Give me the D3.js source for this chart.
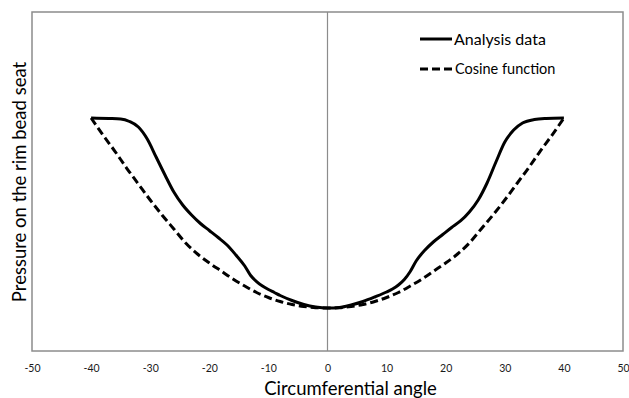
<!DOCTYPE html>
<html><head><meta charset="utf-8">
<script src="https://cdn.jsdelivr.net/npm/d3@7"></script>
<style>html,body{margin:0;padding:0;background:#fff;}svg{display:block;}</style>
</head><body>
<svg id="c" width="629" height="398"></svg>
<script>
// Data (pressure in relative units, 0..100 scale)
const analysisAngles = [-40,-37,-35,-33.5,-32,-30.5,-29,-27.5,-26,-24.5,-23,-21.5,-20,-18.5,-17,-15.5,-14,-13,-12,-11,-10,-9,-8,-6,-4,-2,0,2,4,6,8,10,11,12,13,14,15,16.5,18,19.5,21,22.5,24,25.5,27,28.5,30,31.5,33,35,37,40];
const analysisValues = [68.73,68.59,68.44,67.70,66.08,62.54,57.23,51.92,46.90,43.07,40.12,37.61,35.55,33.48,31.27,28.32,25.07,22.27,20.50,19.17,18.14,17.26,16.37,14.90,13.72,12.98,12.68,12.83,13.57,14.60,15.93,17.40,18.29,19.47,21.09,23.45,26.55,29.79,32.30,34.37,36.43,38.35,41.00,44.54,49.56,55.75,61.65,65.19,67.26,68.29,68.59,68.73];
const cosineAngles = [-40,-38,-36,-34,-32,-30,-28,-26,-24,-22,-20,-18,-16,-14,-12,-10,-8,-6,-4,-2,0,2,4,6,8,10,12,14,16,18,20,22,24,26,28,30,32,34,36,38,40];
const cosineValues = [68.73,63.71,58.99,53.98,49.26,44.54,40.12,35.99,31.86,28.61,25.96,23.60,21.24,19.17,17.26,15.78,14.60,13.72,13.13,12.77,12.68,12.77,13.13,13.72,14.60,15.78,17.26,19.17,21.24,23.60,25.96,28.61,31.86,35.99,40.12,44.54,49.26,53.98,58.99,63.71,68.73];
const xTicks = [-50,-40,-30,-20,-10,0,10,20,30,40,50];
const legendLabels = ["Analysis data","Cosine function"];
const xTitle = "Circumferential angle";
const yTitle = "Pressure on the rim bead seat";

const svg = d3.select("#c");
const L = 32, R = 623, T = 12, B = 351;
const x = d3.scaleLinear().domain([-50,50]).range([L,R]);
const y = d3.scaleLinear().domain([0,100]).range([B,T]);
const grey = "#8c8c8c";
const font = "Lato, 'Open Sans', sans-serif";

// plot border
svg.append("rect").attr("x",L).attr("y",T).attr("width",R-L).attr("height",B-T)
  .attr("fill","none").attr("stroke",grey).attr("stroke-width",1.5);
// zero line
svg.append("line").attr("x1",x(0)).attr("x2",x(0)).attr("y1",T).attr("y2",B)
  .attr("stroke",grey).attr("stroke-width",1.2);

// x axis tick labels
const ax = d3.axisBottom(x).tickValues(xTicks).tickSize(0).tickPadding(0).tickFormat(d3.format("d"));
const g = svg.append("g").attr("transform",`translate(0,${B+14})`).call(ax);
g.select(".domain").remove();
g.selectAll("text").attr("font-family",font).attr("font-size",10.5).attr("fill","#1a1a1a")
  .text(d => d < 0 ? "-" + Math.abs(d) : d);

// curves
const line = d3.line().x(d=>x(d[0])).y(d=>y(d[1])).curve(d3.curveMonotoneX);
const cosData = cosineAngles.map((a,i)=>[a,cosineValues[i]]);
const anaData = analysisAngles.map((a,i)=>[a,analysisValues[i]]);
svg.append("path").attr("d",line(cosData)).attr("fill","none").attr("stroke","#000")
  .attr("stroke-width",3).attr("stroke-dasharray","8,4");
svg.append("path").attr("d",line(anaData)).attr("fill","none").attr("stroke","#000")
  .attr("stroke-width",3);

// legend
const lg = svg.append("g");
lg.append("line").attr("x1",420).attr("x2",452).attr("y1",39).attr("y2",39).attr("stroke","#000").attr("stroke-width",3);
lg.append("text").attr("x",454).attr("y",45).attr("font-family",font).attr("font-size",16).attr("fill","#000").text(legendLabels[0]);
lg.append("line").attr("x1",420).attr("x2",452).attr("y1",69).attr("y2",69).attr("stroke","#000").attr("stroke-width",3).attr("stroke-dasharray","8,4");
lg.append("text").attr("x",455).attr("y",74).attr("font-family",font).attr("font-size",14.5).attr("fill","#000").text(legendLabels[1]);

// axis titles
svg.append("text").attr("x",(L+R)/2+23).attr("y",395).attr("text-anchor","middle")
  .attr("font-family",font).attr("font-size",18.5).attr("fill","#000").text(xTitle);
svg.append("text").attr("transform","translate(25.5,182) rotate(-90)").attr("text-anchor","middle")
  .attr("font-family",font).attr("font-size",18.5).attr("fill","#000").text(yTitle);
</script>
</body></html>
